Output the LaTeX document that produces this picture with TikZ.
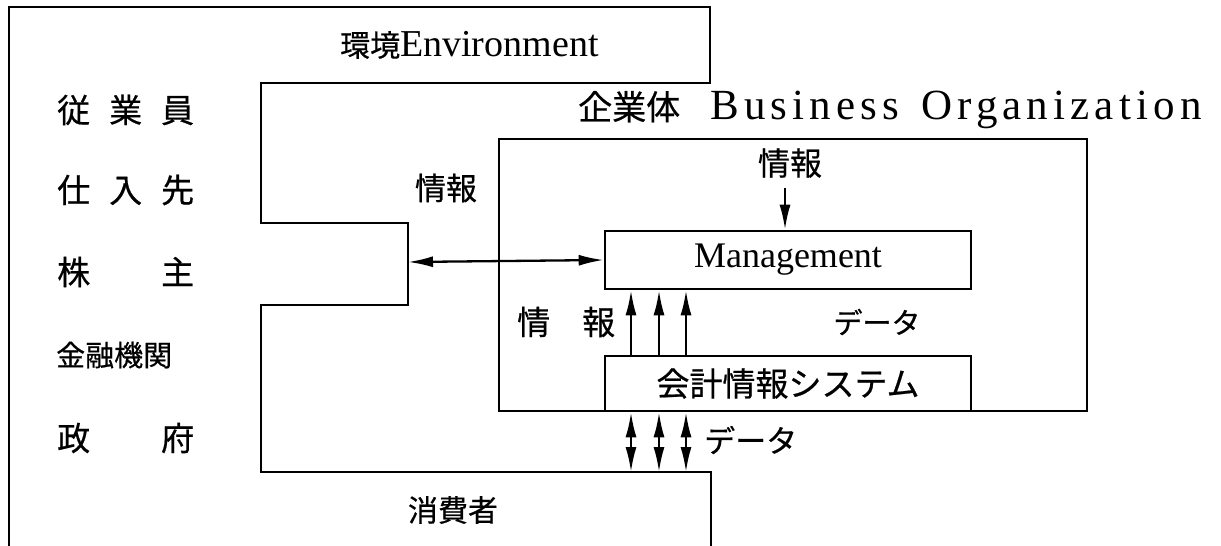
\documentclass[tikz,border=0pt]{standalone}
\usepackage{fontspec}
\setmainfont{Liberation Serif}
\newfontfamily\cjk[FakeBold=0.6]{Noto Sans CJK JP}
\usetikzlibrary{arrows.meta}
\begin{document}
\begin{tikzpicture}[x=1pt,y=-1pt,
  frame/.style={line width=2.6pt,line cap=rect},
  box/.style={draw,line width=2.6pt,inner sep=0pt},
  tip/.tip={Latex[length=25pt,width=11pt]},
  arr/.style={line width=2.3pt,-tip},
  darr/.style={line width=2.3pt,tip-tip},
  jp/.style={font=\cjk\fontsize{30}{34}\selectfont,inner sep=0pt},
  lat/.style={font=\fontsize{37}{40}\selectfont,inner sep=0pt}]
\useasboundingbox (0,0) rectangle (1221,546);
% environment outline
\draw[frame] (9,546) -- (9,7) -- (710,7) -- (710,83) -- (261,83) -- (261,223)
  -- (408,223) -- (408,305) -- (261,305) -- (261,472) -- (711,472) -- (711,546);
\coordinate (stepR) at (408,262);
\coordinate (cons) at (711,472);
% boxes
\node[box,minimum width=588pt,minimum height=272pt] (org) at (793,275) {};
\node[box,minimum width=366pt,minimum height=58pt,lat,font=\fontsize{36}{38}\selectfont] (mg) at (788,260) {Management};
\node[box,minimum width=366pt,minimum height=55pt,jp,font=\cjk\fontsize{33}{36}\selectfont] (acc) at (788,383.5) {会計情報システム};
% texts
\node[lat,anchor=west] (env) at (340,45) {{\cjk\fontsize{30}{34}\selectfont 環境}{\fontsize{38}{40}\selectfont Environment}};
\node[jp,font=\cjk\fontsize{33}{36}\selectfont,anchor=west] (r1) at (57,110) {従\hspace{19pt}業\hspace{19pt}員};
\node[jp,font=\cjk\fontsize{33}{36}\selectfont,anchor=west] (r2) at (57,190) {仕\hspace{19pt}入\hspace{19pt}先};
\node[jp,font=\cjk\fontsize{33}{36}\selectfont,anchor=west] (r3) at (57,272) {株\hspace{71pt}主};
\node[jp,font=\cjk\fontsize{29}{34}\selectfont,anchor=west] (r4) at (56,355) {金融機関};
\node[jp,font=\cjk\fontsize{33}{36}\selectfont,anchor=west] (r5) at (57,438) {政\hspace{71pt}府};
\node[anchor=west,inner sep=0pt] (bo) at (578,110) {{\cjk\fontsize{34}{36}\selectfont 企業体}\hspace{30pt}{\fontsize{43}{44}\selectfont\addfontfeatures{LetterSpace=12}Business\hspace{6pt} Organization}};
\node[jp,font=\cjk\fontsize{31}{34}\selectfont] (inf1) at (446,188) {情報};
\node[jp,font=\cjk\fontsize{32}{34}\selectfont] (inf2) at (790,163) {情報};
\node[jp,font=\cjk\fontsize{33}{36}\selectfont,anchor=west] (inf3) at (517,322) {情\hspace{32pt}報};
\node[jp,font=\cjk\fontsize{29}{32}\selectfont] (dat1) at (877,322) {データ};
\node[jp,font=\cjk\fontsize{31}{34}\selectfont,anchor=west] (dat2) at (704,440) {データ};
\node[jp,font=\cjk\fontsize{30}{34}\selectfont] (cons_t) at (453,510) {消費者};
% connectors
\draw[darr] (stepR) -- (mg.west);
\draw[arr] (inf2.south -| mg.north) ++(-3,10) -- ([xshift=-3pt]mg.north);
\foreach \x [count=\i] in {631,659,686}{
  \coordinate (c\i) at (\x,0);
  \draw[arr] (c\i |- acc.north) -- (c\i |- mg.south);
  \draw[darr] (c\i |- acc.south) -- (c\i |- cons);
}
\end{tikzpicture}
\end{document}
